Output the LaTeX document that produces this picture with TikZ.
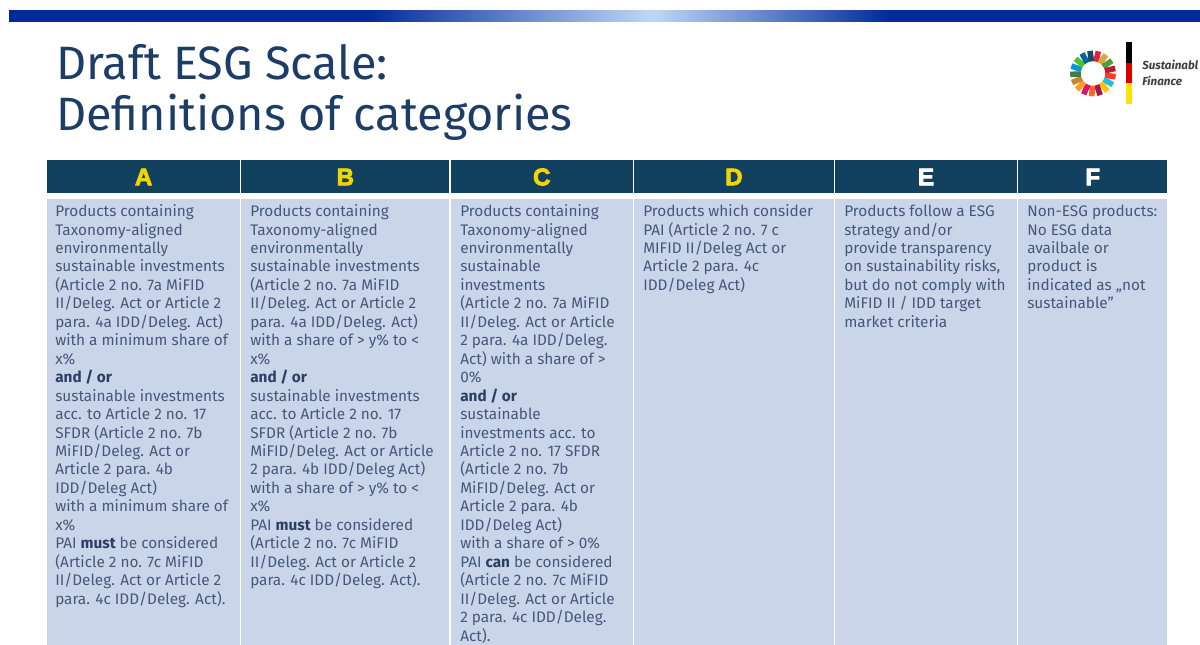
\documentclass[tikz,border=0pt]{standalone}
\usepackage{fontspec}
\setmainfont{Fira Sans}
\newfontfamily\headfont[FakeBold=3.5]{Liberation Sans Bold}
\newfontfamily\logofont{Fira Sans}
\definecolor{barblue}{HTML}{00299A}
\definecolor{barlight}{HTML}{BFD8F6}
\definecolor{titleblue}{HTML}{1C3D66}
\definecolor{headblue}{HTML}{12415F}
\definecolor{cellblue}{HTML}{CAD5EA}
\definecolor{bodytext}{HTML}{46587A}
\definecolor{boldtext}{HTML}{2C3F63}
\definecolor{catyellow}{HTML}{F2D500}
\pgfdeclarehorizontalshading{barshade}{100bp}{color(0bp)=(barblue);color(40bp)=(barblue);color(52bp)=(barlight);color(62bp)=(barblue);color(100bp)=(barblue)}
\tikzset{
  x=0.75pt,y=-0.75pt,
  headcell/.style={fill=headblue,draw=none},
  bodycell/.style={fill=cellblue,draw=none},
  headtext/.style={font=\headfont\fontsize{18}{18}\selectfont,anchor=center,inner sep=0pt},
  bodytxt/.style={font=\fontsize{11.5}{13.84}\selectfont,text=bodytext,align=left,anchor=north west,inner sep=0pt},
  titletxt/.style={font=\fontsize{35.1}{38.3}\selectfont,text=titleblue,align=left,anchor=north west,inner sep=0pt},
  logotxt/.style={font=\logofont\bfseries\itshape\fontsize{8.7}{12}\selectfont,text=black!75,align=left,anchor=north west,inner sep=0pt},
}
\newcommand{\boldword}[1]{\textcolor{boldtext}{\bfseries #1}}
\newcommand{\firstline}{\rule{0pt}{10pt}}
\begin{document}
\begin{tikzpicture}
\useasboundingbox (0,0) rectangle (1200,645);
\fill[white] (0,0) rectangle (1200,645);
% top bar
\path[shading=barshade] (9,11) rectangle (1200,22);
% title
\node[titletxt] (title) at (56,44) {Draft ESG Scale:\\Definitions of categories};
% logo wheel
\begin{scope}[shift={(1093,73.5)}]
\foreach \i/\c in {0/E5243B,1/DDA63A,2/4C9F38,3/C5192D,4/FF3A21,5/26BDE2,6/FCC30B,7/A21942,8/FD6925,9/DD1367,10/FD9D24,11/BF8B2E,12/3F7E44,13/0A97D9,14/56C02B,15/00689D,16/19486A}{
  \definecolor{seg}{HTML}{\c}
  \pgfmathsetmacro{\sa}{-87+\i*21.176+1.5}
  \pgfmathsetmacro{\se}{-87+(\i+1)*21.176-1.5}
  \draw[seg,line width=8pt] (\sa:17.7) arc (\sa:\se:17.7);
}
\end{scope}
% logo bar
\fill[black] (1126,42) rectangle (1132,63);
\fill[red!85!black] (1126,63) rectangle (1132,83);
\fill[yellow!85!orange] (1126,83) rectangle (1132,104);
\node[logotxt] (logoa) at (1142,60) {Sustainabl};
\node[logotxt] (logob) at (1142,76) {Finance};
% header cells
\foreach \n/\l/\r/\t/\col in {a/47/240.2/A/catyellow,b/241.4/449.4/B/catyellow,c/450.6/633/C/catyellow,d/634.2/833.6/D/catyellow,e/834.8/1017.2/E/white,f/1018.4/1167/F/white}{
  \fill[headcell] (\l,160) rectangle (\r,193);
  \fill[bodycell] (\l,199) rectangle (\r,645);
  \node[headtext,text=\col] (head\n) at ({(\l+\r)/2},177) {\t};
}
% body text
\node[bodytxt] (bodya) at (55,203) {\firstline Products containing\\Taxonomy-aligned\\environmentally\\sustainable investments\\(Article 2 no. 7a MiFID\\II/Deleg. Act or Article 2\\para. 4a IDD/Deleg. Act)\\with a minimum share of\\x\%\\\boldword{and / or}\\sustainable investments\\acc. to Article 2 no. 17\\SFDR (Article 2 no. 7b\\MiFID/Deleg. Act or\\Article 2 para. 4b\\IDD/Deleg Act)\\with a minimum share of\\x\%\\PAI \boldword{must} be considered\\(Article 2 no. 7c MiFID\\II/Deleg. Act or Article 2\\para. 4c IDD/Deleg. Act).};
\node[bodytxt] (bodyb) at (250,203) {\firstline Products containing\\Taxonomy-aligned\\environmentally\\sustainable investments\\(Article 2 no. 7a MiFID\\II/Deleg. Act or Article 2\\para. 4a IDD/Deleg. Act)\\with a share of > y\% to <\\x\%\\\boldword{and / or}\\sustainable investments\\acc. to Article 2 no. 17\\SFDR (Article 2 no. 7b\\MiFID/Deleg. Act or Article\\2 para. 4b IDD/Deleg Act)\\with a share of > y\% to <\\x\%\\PAI \boldword{must} be considered\\(Article 2 no. 7c MiFID\\II/Deleg. Act or Article 2\\para. 4c IDD/Deleg. Act).};
\node[bodytxt] (bodyc) at (460,203) {\firstline Products containing\\Taxonomy-aligned\\environmentally\\sustainable\\investments\\(Article 2 no. 7a MiFID\\II/Deleg. Act or Article\\2 para. 4a IDD/Deleg.\\Act) with a share of >\\0\%\\\boldword{and / or}\\sustainable\\investments acc. to\\Article 2 no. 17 SFDR\\(Article 2 no. 7b\\MiFID/Deleg. Act or\\Article 2 para. 4b\\IDD/Deleg Act)\\with a share of > 0\%\\PAI \boldword{can} be considered\\(Article 2 no. 7c MiFID\\II/Deleg. Act or Article\\2 para. 4c IDD/Deleg.\\Act).};
\node[bodytxt] (bodyd) at (643,203) {\firstline Products which consider\\PAI (Article 2 no. 7 c\\MIFID II/Deleg Act or\\Article 2 para. 4c\\IDD/Deleg Act)};
\node[bodytxt] (bodye) at (844,203) {\firstline Products follow a ESG\\strategy and/or\\provide transparency\\on sustainability risks,\\but do not comply with\\MiFID II / IDD target\\market criteria};
\node[bodytxt] (bodyf) at (1027,203) {\firstline Non-ESG products:\\No ESG data\\availbale or\\product is\\indicated as „not\\sustainable”};
\end{tikzpicture}
\end{document}
